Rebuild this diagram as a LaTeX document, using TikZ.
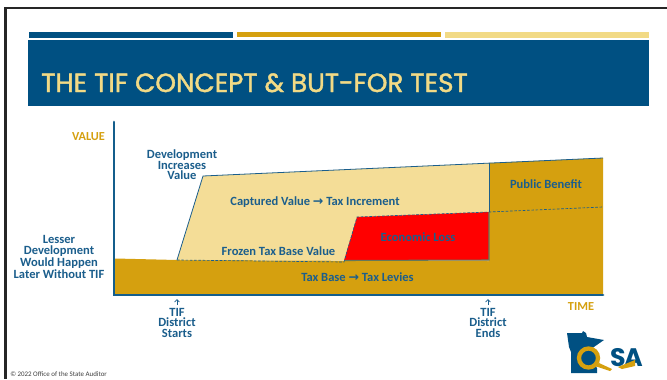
\documentclass[tikz,border=0pt]{standalone}
\usepackage{fontspec}
\setmainfont{Carlito}
\newfontfamily\titlefont[AutoFakeBold=1.6]{Poppins}
\newfontfamily\logofont{Poppins}
\newfontfamily\arrowfont{DejaVu Sans}
\usetikzlibrary{arrows.meta}
\definecolor{osablue}{HTML}{005082}
\definecolor{osatext}{HTML}{1B5E8C}
\definecolor{osagold}{HTML}{D5A00F}
\definecolor{osasand}{HTML}{F4DD97}
\definecolor{osabar}{HTML}{F2DA85}
\tikzset{
  lbl/.style={text=osatext,font=\fontsize{9.4pt}{7.9pt}\selectfont\bfseries,align=center,inner sep=0pt},
  axislbl/.style={text=osagold,font=\fontsize{9.2pt}{8pt}\selectfont\bfseries,inner sep=0pt},
  tick/.style={-{Straight Barb[length=1.8pt,width=3.5pt]},osatext,line width=0.6pt},
  axis/.style={osablue!92!white,line width=2pt,line cap=round}
}
\newcommand{\rarr}{{\arrowfont\fontsize{9.4pt}{7pt}\selectfont\symbol{"2192}}}
\begin{document}
\begin{tikzpicture}[x=0.75pt,y=-0.75pt]
  \useasboundingbox (0,0) rectangle (667,379);
  \fill[white] (0,0) rectangle (667,379);
  \draw[black!85,line width=2pt] (667,8) -- (5.5,8) -- (5.5,379);
  \fill[osablue] (29,32) rectangle (233,38);
  \fill[osagold] (237,32) rectangle (441,37);
  \fill[osabar] (445,32) rectangle (649,38);
  \fill[osablue] (28,40) rectangle (649,106);
  \node[anchor=base west,inner sep=0pt,text=osabar,font=\titlefont\fontsize{19.7pt}{22pt}\selectfont\bfseries] (title) at (41,92) {THE TIF CONCEPT \& BUT-FOR TEST};

  \fill[osagold] (115,258.5) -- (177,260) -- (489,261) -- (489,163) -- (603,158) -- (603,294) -- (115,294) -- cycle;
  \fill[osasand] (177,260) -- (203,176) -- (489,163) -- (489,261) -- cycle;
  \fill[red] (344,260.5) -- (357,217) -- (489,212) -- (489,260) -- cycle;
  \draw[osatext,line width=0.6pt] (177,260) -- (203,176) -- (603,158);
  \draw[osatext,line width=0.6pt] (489,163) -- (489,212);
  \draw[osatext!60!osagold,line width=0.8pt] (344,260.5) -- (489,260) -- (489,212);
  \draw[osatext,line width=0.5pt,dashed,dash pattern=on 2pt off 1.2pt] (177,260) -- (344,262) -- (357,217) -- (489,212) -- (603,207);
  \draw[axis] (114,122) -- (114,295) -- (603,295);

  \node[axislbl] (value) at (88.5,137) {VALUE};
  \node[axislbl] (time) at (581,307) {TIME};
  \node[lbl] (increases) at (182,165) {Development\\Increases\\Value};
  \node[lbl] (captured) at (315,202) {Captured Value \rarr{} Tax Increment};
  \node[lbl] (benefit) at (546,184) {Public Benefit};
  \node[lbl] (frozen) at (278.5,251) {Frozen Tax Base Value};
  \node[lbl] (loss) at (418,237) {Economic Loss};
  \node[lbl] (levies) at (357.5,277) {Tax Base \rarr{} Tax Levies};
  \node[lbl] (lesser) at (59,257) {Lesser\\Development\\Would Happen\\Later Without TIF};
  \node[lbl,anchor=north] (starts) at (177,308) {TIF\\District\\Starts};
  \node[lbl,anchor=north] (ends) at (488,308) {TIF\\District\\Ends};
  \coordinate (startstip) at (177,299);
  \coordinate (endstip) at (488,299);
  \coordinate (startstail) at (177,305);
  \coordinate (endstail) at (488,305);
  \draw[tick] (startstail) -- (startstip);
  \draw[tick] (endstail) -- (endstip);
  \node[anchor=west,inner sep=0pt,text=black!75,font=\fontsize{5.2pt}{6pt}\selectfont] (credit) at (10,374) {© 2022 Office of the State Auditor};

  \fill[osablue] (567,333) -- (582,333) -- (583,331) -- (586,333) -- (587,337) -- (604,340) -- (591,349) -- (591,360) -- (597,368) -- (597,373) -- (571,373) -- (571,352) -- (569,347) -- cycle;
  \draw[osagold,fill=osablue,line width=3.2pt] (588.5,358) circle (9.5);
  \fill[osagold] (595,366) -- (599,363) -- (612,369) -- (610,371) -- cycle;
  \node[inner sep=0pt,text=osablue,font=\logofont\fontsize{19pt}{20pt}\selectfont\bfseries] (logos) at (618,358) {S};
  \node[inner sep=0pt,text=osablue,font=\logofont\fontsize{19pt}{20pt}\selectfont\bfseries] (logoa) at (633.5,358) {A};
  \fill[osagold] (618,367) -- (635,360) -- (635,366) -- (622,369) -- cycle;
\end{tikzpicture}
\end{document}
